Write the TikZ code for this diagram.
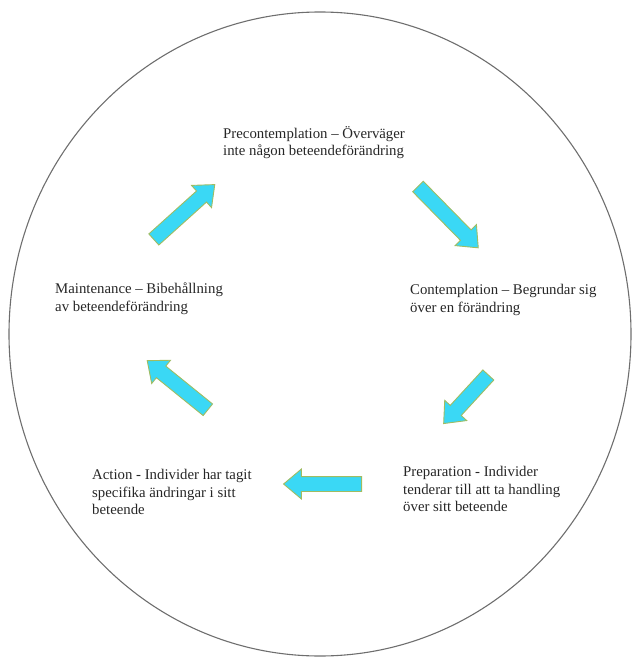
\documentclass[tikz,border=0pt]{standalone}
\usepackage{fontspec}
\setmainfont{Liberation Serif}
\usepackage{xcolor}
\usetikzlibrary{shapes.arrows, positioning}
\definecolor{arrowfill}{RGB}{58,216,245}
\definecolor{arrowline}{RGB}{160,188,98}
\definecolor{ringgray}{RGB}{110,110,110}

\begin{document}
\begin{tikzpicture}[
    x=1pt, y=-1pt,
    stage/.style={anchor=north west, inner sep=0pt, align=left, font=\fontsize{14.8}{17.6}\selectfont, text=black!85},
    blockarrow/.style={single arrow, draw=arrowline, fill=arrowfill, line width=0.9pt, inner xsep=0pt, inner ysep=7pt, single arrow head extend=7.5pt, single arrow tip angle=80, text height=0pt, text depth=0pt},
    ring/.style={draw=ringgray, line width=1.1pt}
]
    \useasboundingbox (0,0) rectangle (637,658);

    % Outer ring
    \draw [ring] (320,334) ellipse [x radius=311pt, y radius=322pt];

    % Stages of change
    \node (pre) [stage] at (223,126) {Precontemplation -- Överväger\\inte någon beteendeförändring};
    \node (con) [stage] at (410,284) {Contemplation -- Begrundar sig\\över en förändring};
    \node (prep) [stage] at (403,466) {Preparation - Individer\\tenderar till att ta handling\\över sitt beteende};
    \node (act) [stage] at (92,469) {Action - Individer har tagit\\specifika ändringar i sitt\\beteende};
    \node (main) [stage] at (55,283) {Maintenance -- Bibehållning\\av beteendeförändring};

    % Block arrows between stages
    \node (a1) [blockarrow, minimum height=82pt, rotate=42] at (181,215) {};
    \node (a2) [blockarrow, minimum height=86pt, rotate=-45.5] at (445,214) {};
    \node (a3) [blockarrow, minimum height=66pt, rotate=-132.6] at (469,396) {};
    \node (a4) [blockarrow, minimum height=78pt, rotate=180] at (327,484) {};
    \node (a5) [blockarrow, minimum height=78pt, rotate=141] at (181,388) {};

\end{tikzpicture}
\end{document}
